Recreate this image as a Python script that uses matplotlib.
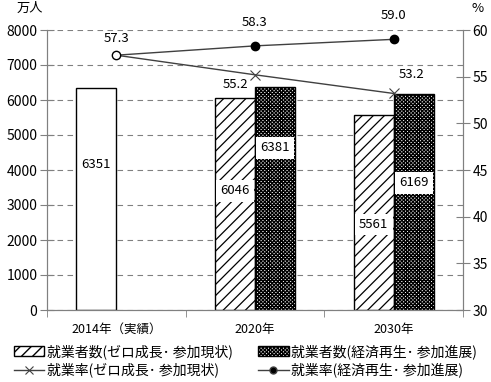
import numpy as np
import matplotlib
matplotlib.use('Agg')
import matplotlib.pyplot as plt
from matplotlib.patches import Patch
from matplotlib.lines import Line2D

plt.rcParams['font.family'] = ['Noto Sans CJK JP', 'DejaVu Sans']

categories = ['2014年（実績）', '2020年', '2030年']
workers_zero = [6351, 6046, 5561]
workers_econ = [np.nan, 6381, 6169]
rate_zero = [57.3, 55.2, 53.2]
rate_econ = [57.3, 58.3, 59.0]

name_workers_zero = '就業者数(ゼロ成長･ 参加現状)'
name_workers_econ = '就業者数(経済再生･ 参加進展)'
name_rate_zero = '就業率(ゼロ成長･ 参加現状)'
name_rate_econ = '就業率(経済再生･ 参加進展)'

# where the bar value labels sit (data units of the left axis)
label_y_zero = [4150, 3400, 2450]
label_y_econ = [np.nan, 4630, 3630]

fig = plt.figure(figsize=(4.91, 3.82), dpi=100)
ax = fig.add_axes([47 / 491, 72 / 382, 416 / 491, 280 / 382])
ax2 = ax.twinx()

x = np.arange(len(categories))
w = 0.288
gray = '#808080'
dense = 'xxxxxxxxx'

# bars
ax.bar(x[0] - w / 2, workers_zero[0], w, color='white', edgecolor='black', linewidth=1, zorder=2)
plt.rcParams['hatch.linewidth'] = 0.9
ax.bar(x[1:] - w / 2, workers_zero[1:], w, color='white', edgecolor='black',
       hatch='///', linewidth=1, zorder=2)
plt.rcParams['hatch.linewidth'] = 1.0
ax.bar(x[1:] + w / 2, workers_econ[1:], w, color='white', edgecolor='black',
       hatch=dense, linewidth=1, zorder=2)

for i in range(len(categories)):
    box = None if i == 0 else dict(facecolor='white', edgecolor='none', pad=3)
    ax.text(x[i] - w / 2, label_y_zero[i], str(workers_zero[i]), ha='center', va='center',
            fontsize=9.5, zorder=5, bbox=box)
    if not np.isnan(workers_econ[i]):
        ax.text(x[i] + w / 2, label_y_econ[i], str(int(workers_econ[i])), ha='center',
                va='center', fontsize=9.5, zorder=5,
                bbox=dict(facecolor='white', edgecolor='none', pad=3))

ax.set_xlim(-0.5, 2.5)
ax.set_ylim(0, 8000)
ax.set_yticks(np.arange(0, 8001, 1000))
ax.yaxis.grid(True, color=gray, linestyle=(0, (5, 4)), linewidth=0.8)
ax.set_axisbelow(True)
ax.set_xticks(x)
ax.set_xticklabels(categories, fontsize=9)
ax.set_xticks([-0.5, 0.5, 1.5, 2.5], minor=True)
ax.tick_params(axis='x', which='major', length=0, pad=9)
ax.tick_params(axis='x', which='minor', length=5, color=gray, direction='out')
ax.tick_params(axis='y', length=10, direction='inout', color=gray, labelsize=10, pad=2)

# lines
ax2.plot(x, rate_zero, color='#404040', linewidth=1, marker='x', markersize=7,
         markeredgecolor='#404040', markeredgewidth=0.8, markevery=[1, 2], zorder=3)
ax2.plot(x, rate_econ, color='#404040', linewidth=1, marker='o', markersize=6,
         markerfacecolor='black', markeredgecolor='black', markevery=[1, 2], zorder=3)
ax2.plot(x[0], rate_zero[0], marker='o', markersize=6, markerfacecolor='white',
         markeredgecolor='black', markeredgewidth=1, zorder=4)
ax2.set_ylim(30, 60)
ax2.set_yticks(np.arange(30, 61, 5))
ax2.tick_params(axis='y', length=10, direction='inout', color=gray, labelsize=10, pad=2)

offsets = {(0, 'z'): (0, 12), (1, 'z'): (-14, -7), (2, 'z'): (13, 14),
           (1, 'e'): (0, 17), (2, 'e'): (0, 17)}
for (i, s), (dx, dy) in offsets.items():
    v = rate_zero[i] if s == 'z' else rate_econ[i]
    ax2.annotate(f'{v:.1f}', (x[i], v), xytext=(dx, dy), textcoords='offset points',
                 ha='center', va='center', fontsize=9.5)

for a in (ax, ax2):
    a.spines['top'].set_visible(False)
    for s in ('left', 'right', 'bottom'):
        a.spines[s].set_color(gray)

fig.text(30 / 491, 1 - 8 / 382, '万人', ha='center', va='center', fontsize=9.5)
fig.text(478 / 491, 1 - 8 / 382, '%', ha='center', va='center', fontsize=9.5)

handles = [
    Patch(facecolor='white', edgecolor='black', hatch='///', label=name_workers_zero),
    Line2D([], [], color='#404040', linewidth=1, marker='x', markersize=6,
           markeredgewidth=0.8, label=name_rate_zero),
    Patch(facecolor='white', edgecolor='black', hatch=dense, label=name_workers_econ),
    Line2D([], [], color='#404040', linewidth=1, marker='o', markersize=5,
           markerfacecolor='black', label=name_rate_econ),
]
fig.legend(handles=handles, ncol=2, loc='lower center', bbox_to_anchor=(0.5, -0.01),
           frameon=False, fontsize=10, handlelength=2.2, handletextpad=0.2,
           columnspacing=1.8, labelspacing=0.25, borderaxespad=0.2)

fig.savefig('out.png', dpi=100)
